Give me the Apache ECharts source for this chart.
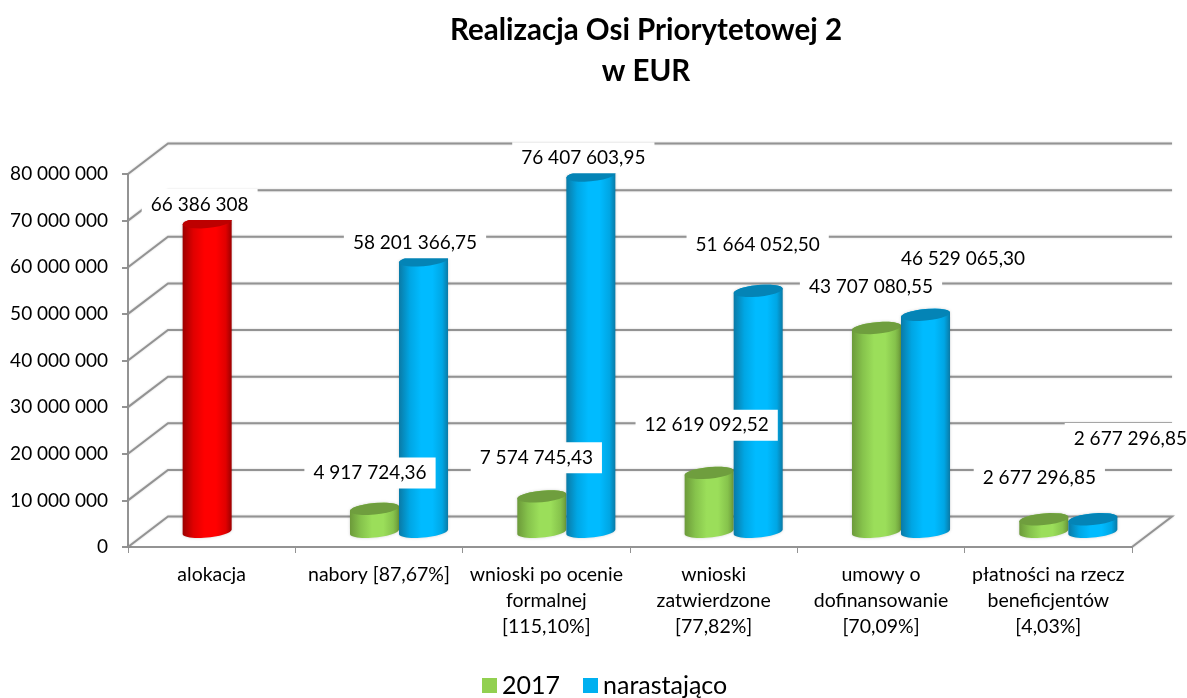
<!DOCTYPE html>
<html>
<head>
<meta charset="utf-8">
<title>Realizacja Osi Priorytetowej 2</title>
<style>
html,body{margin:0;padding:0;background:#fff;}
#chart{width:1187px;height:698px;}
</style>
<script src="https://cdn.jsdelivr.net/npm/echarts@6/dist/echarts.min.js"></script>
</head>
<body>
<div id="chart"></div>
<script>
var categories=['alokacja','nabory [87,67%]','wnioski po ocenie\nformalnej\n[115,10%]','wnioski\nzatwierdzone\n[77,82%]','umowy o\ndofinansowanie\n[70,09%]','płatności na rzecz\nbeneficjentów\n[4,03%]'];
var values2017=[66386308,4917724.36,7574745.43,12619092.52,43707080.55,2677296.85];
var valuesTotal=[null,58201366.75,76407603.95,51664052.50,46529065.30,2677296.85];
var yTicks=[0,10000000,20000000,30000000,40000000,50000000,60000000,70000000,80000000];
// przesuniecia etykiet wzgledem wartosci na osi (ustawione recznie jak w oryginale)
var offsets2017=[[-12,-33],[-9,-51],[-10,-54],[-7,-63],[-10,-56],[-9,-57]];
var offsetsTotal=[null,[36,-33],[37,-33],[44,-61],[82,-71],[82,-96]];

var FONT='Lato, "Noto Sans", sans-serif';
var GRID_COLOR='#939393';
var DEPTH_X=40,DEPTH_Y=-30.5;
var SLOT=0.293,RY=5.8,TILT=-0.09;
var green={edge:'#6c9a3a',mid:'#86c34c',light:'#9bde5a',top:'#6f9e3e'};
var blue={edge:'#0a7aa6',mid:'#00a6e4',light:'#00bbff',top:'#0484b6'};
var red={edge:'#9c0000',mid:'#e00000',light:'#ff0000',top:'#bd0000'};

function formatValue(v){
    var s=Number.isInteger(v)?String(v):v.toFixed(2);
    var p=s.split('.');
    return p[0].replace(/\B(?=(\d{3})+(?!\d))/g,' ')+(p[1]?','+p[1]:'');
}
function arc(cx,cy,rx,from,to){
    var pts=[],n=24;
    for(var i=0;i<=n;i++){
        var t=from+(to-from)*i/n;
        pts.push([cx+rx*Math.cos(t),cy+RY*Math.sin(t)+rx*Math.cos(t)*TILT]);
    }
    return pts;
}
// walec: slot -1 lewy, 1 prawy
function cylinder(params,api,slot,palette){
    var v=api.value(1);
    if(v==null||isNaN(v)){return;}
    var catW=api.size([1,0])[0];
    var w=catW*SLOT;
    var top=api.coord([api.value(0),v]);
    var base=api.coord([api.value(0),0]);
    var c=palette;
    if(slot<0&&params.dataIndex===0){c=red;}
    var cx=top[0]+DEPTH_X/2+slot*w/2;
    var yTop=top[1]+DEPTH_Y/2,yBase=base[1]+DEPTH_Y/2;
    var body=arc(cx,yBase,w/2,Math.PI,0).concat(arc(cx,yTop,w/2,0,-Math.PI));
    return {type:'group',children:[
        {type:'polygon',shape:{points:body},style:{
            fill:new echarts.graphic.LinearGradient(0,0,1,0,[
                {offset:0,color:c.edge},{offset:0.22,color:c.mid},{offset:0.45,color:c.light},
                {offset:0.68,color:c.light},{offset:0.88,color:c.mid},{offset:1,color:c.edge}]),
            shadowBlur:3,shadowColor:'rgba(0,0,0,0.18)'}},
        {type:'polygon',shape:{points:arc(cx,yTop,w/2,0,Math.PI*2)},style:{fill:c.top}}
    ]};
}
function renderWall(params,api){
    var p=api.coord([0,api.value(0)]);
    var catW=api.size([1,0])[0];
    var left=p[0]-catW/2;
    var right=left+catW*categories.length;
    var line={stroke:GRID_COLOR,lineWidth:2,fill:null,shadowBlur:2,shadowColor:'rgba(0,0,0,0.2)'};
    var pts=[[left,p[1]],[left+DEPTH_X,p[1]+DEPTH_Y],[right+DEPTH_X,p[1]+DEPTH_Y]];
    if(api.value(0)===0){pts.push([right,p[1]]);}
    return {type:'polyline',shape:{points:pts},style:line};
}
function renderLabel(params,api){
    var off=[api.value(2),api.value(3)];
    var p=api.coord([api.value(0),api.value(1)]);
    return {type:'text',style:{
        x:p[0]+off[0],y:p[1]+off[1],text:formatValue(api.value(1)),
        align:'center',verticalAlign:'middle',fill:'#000',
        font:'19px '+FONT,backgroundColor:'#fff',padding:[6,9]
    }};
}
function pairs(arr){
    return arr.map(function(v,i){return [i,v];});
}
function labelRows(){
    var rows=[];
    values2017.forEach(function(v,i){rows.push([i,v,offsets2017[i][0],offsets2017[i][1]]);});
    valuesTotal.forEach(function(v,i){if(v!=null){rows.push([i,v,offsetsTotal[i][0],offsetsTotal[i][1]]);}});
    return rows;
}

var chart=echarts.init(document.getElementById('chart'),null,{renderer:'canvas'});
chart.setOption({
    animation:false,
    title:{
        text:'Realizacja Osi Priorytetowej 2\nw EUR',
        left:641,top:5,textAlign:'center',
        textStyle:{fontFamily:FONT,fontWeight:'bold',fontSize:29.5,lineHeight:41,color:'#000'}
    },
    legend:{
        data:[{name:'2017',itemStyle:{color:'#92d050'}},{name:'narastająco',itemStyle:{color:'#00b0f0'}}],
        left:477,top:668,icon:'rect',itemWidth:15,itemHeight:15,itemGap:23,selectedMode:false,
        textStyle:{fontFamily:FONT,fontSize:25,color:'#000'}
    },
    grid:{left:128,right:55,top:174,bottom:151,containLabel:false},
    xAxis:{
        type:'category',data:categories,
        axisLine:{lineStyle:{color:GRID_COLOR,width:2}},
        axisTick:{show:true,interval:0,length:6,lineStyle:{color:GRID_COLOR,width:1}},
        axisLabel:{interval:0,margin:15,fontFamily:FONT,fontSize:19.5,lineHeight:26,color:'#000'}
    },
    yAxis:{
        type:'value',min:0,max:80000000,interval:10000000,
        axisLine:{show:true,lineStyle:{color:GRID_COLOR,width:2}},
        axisTick:{show:true,length:6,lineStyle:{color:GRID_COLOR,width:2}},
        splitLine:{show:false},
        axisLabel:{margin:20,fontFamily:FONT,fontSize:19,color:'#000',formatter:formatValue}
    },
    series:[
        {name:'siatka',type:'custom',silent:true,z:1,clip:false,encode:{y:0},
            data:yTicks.map(function(v){return [v];}),renderItem:renderWall},
        {name:'2017',type:'custom',z:2,clip:false,encode:{x:0,y:1},itemStyle:{color:'#92d050'},
            data:pairs(values2017),renderItem:function(p,a){return cylinder(p,a,-1,green);}},
        {name:'narastająco',type:'custom',z:3,clip:false,encode:{x:0,y:1},itemStyle:{color:'#00b0f0'},
            data:pairs(valuesTotal),renderItem:function(p,a){return cylinder(p,a,1,blue);}},
        {name:'etykiety',type:'custom',silent:true,z:5,clip:false,encode:{x:0,y:1},
            data:labelRows(),renderItem:renderLabel}
    ]
});
</script>
</body>
</html>
